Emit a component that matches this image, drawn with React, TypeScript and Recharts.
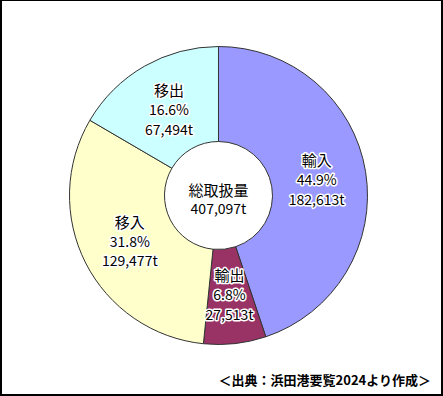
import React from "react";
import { PieChart, Pie, Cell } from "recharts";

const categories = ["輸入", "輸出", "移入", "移出"];
const shares = ["44.9%", "6.8%", "31.8%", "16.6%"];
const tonnages = [182613, 27513, 129477, 67494];
const colors = ["#9999FF", "#993366", "#FFFFCC", "#CCFFFF"];
const centerTitle = "総取扱量";
const centerValue = "407,097t";
const sourceNote = "＜出典：浜田港要覧2024より作成＞";

const data = categories.map((name, i) => ({
  name,
  value: tonnages[i],
  share: shares[i],
}));

const fmt = (n: number) => n.toLocaleString("en-US") + "t";
const FONT = "'Noto Sans CJK JP', 'Noto Sans', sans-serif";

const RAD = Math.PI / 180;

const renderLabel = (props: any) => {
  const { cx, cy, midAngle, innerRadius, outerRadius, index } = props;
  const r = (innerRadius + outerRadius) / 2 - 2;
  const x = cx + r * Math.cos(-midAngle * RAD);
  const y = cy + r * Math.sin(-midAngle * RAD);
  const d = data[index];
  const common: any = {
    x,
    textAnchor: "middle",
    dominantBaseline: "central",
    fontFamily: FONT,
    fill: "#000",
    stroke: "#fff",
    strokeWidth: 3,
    strokeLinejoin: "round",
    style: { paintOrder: "stroke" },
  };
  return (
    <g key={`lbl-${index}`}>
      <text {...common} y={y - 19.5} fontSize={15}>
        {d.name}
      </text>
      <text {...common} y={y} fontSize={14}>
        {d.share}
      </text>
      <text {...common} y={y + 19.5} fontSize={14}>
        {fmt(d.value)}
      </text>
    </g>
  );
};

export default function App() {
  return (
    <div
      style={{
        position: "fixed",
        left: 0,
        top: 0,
        width: 443,
        height: 396,
        boxSizing: "border-box",
        borderLeft: "2px solid #000",
        borderTop: "1px solid #000",
        borderRight: "2px solid #000",
        borderBottom: "2px solid #000",
        background: "#fff",
        overflow: "hidden",
      }}
    >
      <div style={{ position: "absolute", left: -2, top: -1 }}>
        <PieChart
          width={443}
          height={396}
          margin={{ top: 0, right: 0, bottom: 0, left: 0 }}
        >
          <Pie
            data={data}
            dataKey="value"
            nameKey="name"
            cx={218.5}
            cy={195.5}
            innerRadius={54}
            outerRadius={149}
            startAngle={90}
            endAngle={-270}
            stroke="#333"
            strokeWidth={1}
            label={renderLabel}
            labelLine={false}
            isAnimationActive={false}
          >
            {data.map((d, i) => (
              <Cell key={d.name} fill={colors[i]} />
            ))}
          </Pie>
          <text
            x={218.5}
            y={189}
            textAnchor="middle"
            dominantBaseline="central"
            fontFamily={FONT}
            fontSize={15}
            fill="#000"
          >
            {centerTitle}
          </text>
          <text
            x={218.5}
            y={208}
            textAnchor="middle"
            dominantBaseline="central"
            fontFamily={FONT}
            fontSize={14}
            fill="#000"
          >
            {centerValue}
          </text>
          <text
            x={431}
            y={379}
            textAnchor="end"
            dominantBaseline="central"
            fontFamily={FONT}
            fontSize={13}
            fontWeight="bold"
            fill="#000"
          >
            {sourceNote}
          </text>
        </PieChart>
      </div>
    </div>
  );
}
